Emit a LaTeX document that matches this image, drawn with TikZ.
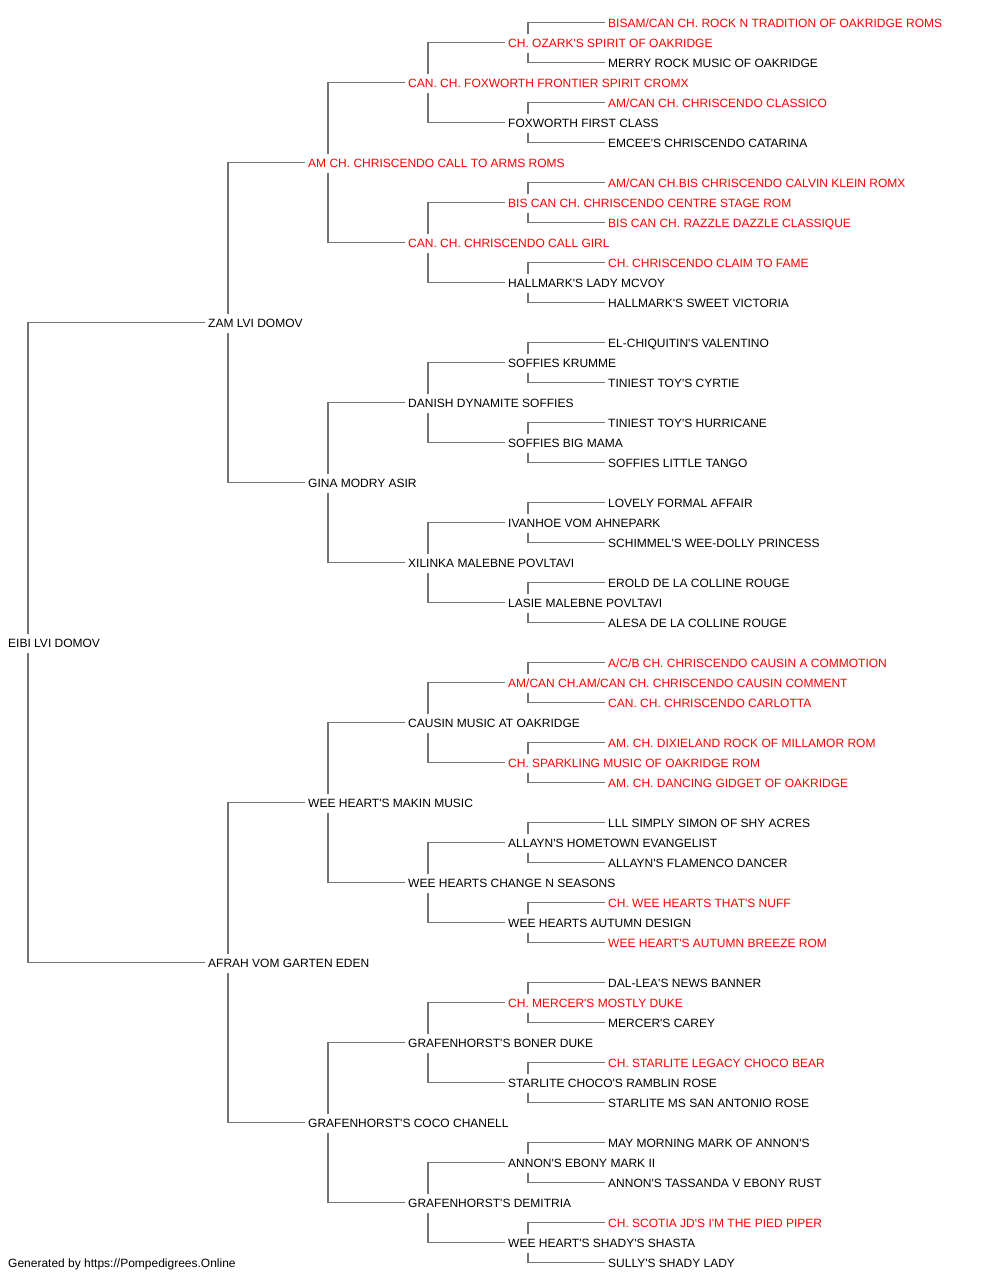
\documentclass[tikz,border=0pt]{standalone}
\usepackage{fontspec}
\setmainfont{Liberation Sans}[Ligatures=TeXOff]
\definecolor{ln}{RGB}{115,115,115}
\definecolor{rd}{RGB}{255,0,0}
\tikzset{
  nm/.style={anchor=west, inner xsep=3pt, inner ysep=6pt, text height=8.6pt, text depth=0pt,
    font=\fontsize{12}{14}\selectfont, text=black},
  rednm/.style={nm, text=rd},
  conn/.style={draw=ln, line width=1.9pt}
}
\newcommand\pn[4]{\node[#2] (n#1) at (#3-3, 23.5+20*#1) {#4};}
\begin{document}
\begin{tikzpicture}[x=1pt,y=-1pt]
\useasboundingbox (0,0) rectangle (1000,1280);
\pn{0}{rednm}{608}{BISAM/CAN CH. ROCK N TRADITION OF OAKRIDGE ROMS}
\pn{1}{rednm}{508}{CH. OZARK'S SPIRIT OF OAKRIDGE}
\pn{2}{nm}{608}{MERRY ROCK MUSIC OF OAKRIDGE}
\pn{3}{rednm}{408}{CAN. CH. FOXWORTH FRONTIER SPIRIT CROMX}
\pn{4}{rednm}{608}{AM/CAN CH. CHRISCENDO CLASSICO}
\pn{5}{nm}{508}{FOXWORTH FIRST CLASS}
\pn{6}{nm}{608}{EMCEE'S CHRISCENDO CATARINA}
\pn{7}{rednm}{308}{AM CH. CHRISCENDO CALL TO ARMS ROMS}
\pn{8}{rednm}{608}{AM/CAN CH.BIS CHRISCENDO CALVIN KLEIN ROMX}
\pn{9}{rednm}{508}{BIS CAN CH. CHRISCENDO CENTRE STAGE ROM}
\pn{10}{rednm}{608}{BIS CAN CH. RAZZLE DAZZLE CLASSIQUE}
\pn{11}{rednm}{408}{CAN. CH. CHRISCENDO CALL GIRL}
\pn{12}{rednm}{608}{CH. CHRISCENDO CLAIM TO FAME}
\pn{13}{nm}{508}{HALLMARK'S LADY MCVOY}
\pn{14}{nm}{608}{HALLMARK'S SWEET VICTORIA}
\pn{15}{nm}{208}{ZAM LVI DOMOV}
\pn{16}{nm}{608}{EL-CHIQUITIN'S VALENTINO}
\pn{17}{nm}{508}{SOFFIES KRUMME}
\pn{18}{nm}{608}{TINIEST TOY'S CYRTIE}
\pn{19}{nm}{408}{DANISH DYNAMITE SOFFIES}
\pn{20}{nm}{608}{TINIEST TOY'S HURRICANE}
\pn{21}{nm}{508}{SOFFIES BIG MAMA}
\pn{22}{nm}{608}{SOFFIES LITTLE TANGO}
\pn{23}{nm}{308}{GINA MODRY ASIR}
\pn{24}{nm}{608}{LOVELY FORMAL AFFAIR}
\pn{25}{nm}{508}{IVANHOE VOM AHNEPARK}
\pn{26}{nm}{608}{SCHIMMEL'S WEE-DOLLY PRINCESS}
\pn{27}{nm}{408}{XILINKA MALEBNE POVLTAVI}
\pn{28}{nm}{608}{EROLD DE LA COLLINE ROUGE}
\pn{29}{nm}{508}{LASIE MALEBNE POVLTAVI}
\pn{30}{nm}{608}{ALESA DE LA COLLINE ROUGE}
\pn{31}{nm}{8}{EIBI LVI DOMOV}
\pn{32}{rednm}{608}{A/C/B CH. CHRISCENDO CAUSIN A COMMOTION}
\pn{33}{rednm}{508}{AM/CAN CH.AM/CAN CH. CHRISCENDO CAUSIN COMMENT}
\pn{34}{rednm}{608}{CAN. CH. CHRISCENDO CARLOTTA}
\pn{35}{nm}{408}{CAUSIN MUSIC AT OAKRIDGE}
\pn{36}{rednm}{608}{AM. CH. DIXIELAND ROCK OF MILLAMOR ROM}
\pn{37}{rednm}{508}{CH. SPARKLING MUSIC OF OAKRIDGE ROM}
\pn{38}{rednm}{608}{AM. CH. DANCING GIDGET OF OAKRIDGE}
\pn{39}{nm}{308}{WEE HEART'S MAKIN MUSIC}
\pn{40}{nm}{608}{LLL SIMPLY SIMON OF SHY ACRES}
\pn{41}{nm}{508}{ALLAYN'S HOMETOWN EVANGELIST}
\pn{42}{nm}{608}{ALLAYN'S FLAMENCO DANCER}
\pn{43}{nm}{408}{WEE HEARTS CHANGE N SEASONS}
\pn{44}{rednm}{608}{CH. WEE HEARTS THAT'S NUFF}
\pn{45}{nm}{508}{WEE HEARTS AUTUMN DESIGN}
\pn{46}{rednm}{608}{WEE HEART'S AUTUMN BREEZE ROM}
\pn{47}{nm}{208}{AFRAH VOM GARTEN EDEN}
\pn{48}{nm}{608}{DAL-LEA'S NEWS BANNER}
\pn{49}{rednm}{508}{CH. MERCER'S MOSTLY DUKE}
\pn{50}{nm}{608}{MERCER'S CAREY}
\pn{51}{nm}{408}{GRAFENHORST'S BONER DUKE}
\pn{52}{rednm}{608}{CH. STARLITE LEGACY CHOCO BEAR}
\pn{53}{nm}{508}{STARLITE CHOCO'S RAMBLIN ROSE}
\pn{54}{nm}{608}{STARLITE MS SAN ANTONIO ROSE}
\pn{55}{nm}{308}{GRAFENHORST'S COCO CHANELL}
\pn{56}{nm}{608}{MAY MORNING MARK OF ANNON'S}
\pn{57}{nm}{508}{ANNON'S EBONY MARK II}
\pn{58}{nm}{608}{ANNON'S TASSANDA V EBONY RUST}
\pn{59}{nm}{408}{GRAFENHORST'S DEMITRIA}
\pn{60}{rednm}{608}{CH. SCOTIA JD'S I'M THE PIED PIPER}
\pn{61}{nm}{508}{WEE HEART'S SHADY'S SHASTA}
\pn{62}{nm}{608}{SULLY'S SHADY LADY}
\node[nm] (footer) at (5, 1263.5) {Generated by https://Pompedigrees.Online};
% connectors
\foreach \p/\d in {31/16,15/8,47/8,7/4,23/4,39/4,55/4,3/2,11/2,19/2,27/2,35/2,43/2,51/2,59/2,
  1/1,5/1,9/1,13/1,17/1,21/1,25/1,29/1,33/1,37/1,41/1,45/1,49/1,53/1,57/1,61/1}{
  \pgfmathtruncatemacro\ca{\p-\d}
  \pgfmathtruncatemacro\cb{\p+\d}
  \draw[conn] ([xshift=23pt,yshift=-1pt]n\p.north west) |- ([yshift=1pt]n\ca.west);
  \draw[conn] ([xshift=23pt,yshift=1pt]n\p.south west) |- ([yshift=1pt]n\cb.west);
}
\end{tikzpicture}
\end{document}
